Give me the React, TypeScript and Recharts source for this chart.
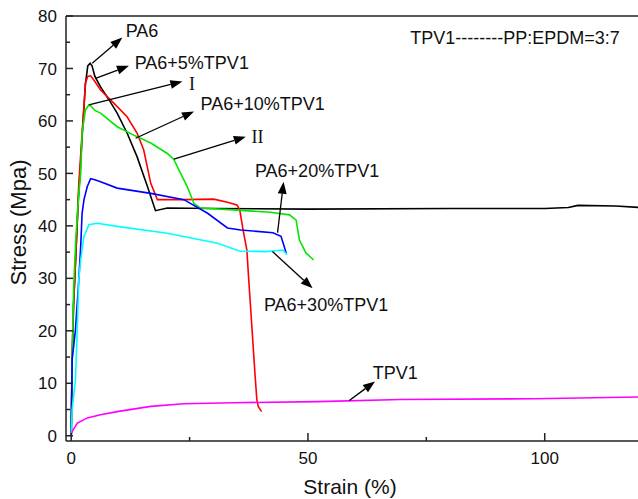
import React from "react";
import {
  LineChart,
  Line,
  XAxis,
  YAxis,
  ReferenceLine,
  ReferenceDot,
} from "recharts";

// strain (%) / stress (MPa)
const pa6Strain = [0, 0.2, 0.5, 1, 1.5, 2, 2.5, 3, 3.5, 4, 4.4, 5, 6.2, 8, 9.7, 11.8, 13.9, 16.1, 17.8, 20.3, 30, 50, 80, 100, 105, 107, 115, 120];
const pa6Stress = [0, 15, 25, 35, 45, 52, 60, 67, 70.5, 71, 70.5, 68.5, 66.5, 64, 61.5, 57.7, 53.2, 47.5, 42.9, 43.4, 43.3, 43.2, 43.3, 43.3, 43.5, 43.9, 43.8, 43.5];

const tpv5Strain = [0, 0.2, 0.5, 1, 1.6, 2.3, 2.7, 3, 3.5, 4.1, 5, 6.2, 9, 11.8, 13.9, 15.3, 16.8, 18.2, 23.8, 30.1, 33, 35, 35.6, 36.3, 37.1, 37.4, 38.1, 38.8, 39.2, 39.5, 40.2];
const tpv5Stress = [0, 15, 25, 35, 48, 57.7, 62.7, 67.2, 68.5, 68.6, 67.5, 65.9, 63.4, 60.8, 57.7, 54.5, 48.1, 45, 45, 45.1, 44.5, 44, 43, 39.2, 35.4, 31, 21.5, 11.9, 6.9, 5.6, 4.6];

const tpv10Strain = [0, 0.2, 0.5, 1, 1.6, 2, 2.3, 3, 3.7, 4.1, 5, 6.2, 9.7, 13.2, 16.8, 20.3, 21.7, 23.1, 24.5, 25.9, 27.3, 35, 42, 46.1, 47.5, 48.2, 49.6, 51.2];
const tpv10Stress = [0, 15, 28, 38, 46, 50, 57.7, 62.1, 63, 62.9, 62, 61.5, 58.9, 57.3, 55.8, 53.8, 52.6, 50, 47.5, 44.3, 43.4, 43, 42.6, 42.1, 41.1, 37.3, 34.8, 33.5];

const tpv20Strain = [0, 0.2, 0.9, 1.6, 2, 2.3, 2.7, 3.4, 4.1, 5, 6.2, 9.7, 16.8, 23.8, 28.8, 33, 35.8, 42.6, 44.3, 45, 45.4];
const tpv20Stress = [0, 14.5, 20.2, 29.7, 36, 42.4, 45, 47.5, 49, 48.8, 48.4, 47.2, 46.2, 45, 42.4, 39.6, 39.2, 38.7, 38, 36, 34.8];

const tpv30Strain = [0, 0.2, 0.9, 1.27, 1.6, 2, 2.7, 3.7, 5.5, 9.7, 20.3, 30.9, 35.5, 41.2, 44.7, 45.6];
const tpv30Stress = [0, 5, 10.7, 20.2, 29.7, 33.5, 38, 40.2, 40.5, 39.9, 38.6, 36.7, 35.2, 35.1, 35.4, 34.5];

const tpvStrain = [0, 0.3, 1.3, 3.4, 6.2, 9.7, 16.8, 23.8, 34.4, 52, 69.6, 97.8, 120];
const tpvStress = [0.2, 1, 2.4, 3.4, 4, 4.6, 5.6, 6.1, 6.3, 6.5, 6.9, 7.05, 7.4];

const xTicks = [0, 25, 50, 75, 100];
const yTicks = [0, 5, 10, 15, 20, 25, 30, 35, 40, 45, 50, 55, 60, 65, 70, 75, 80];

const arrowFrom = [[4.44, 71.0], [5.14, 68.1], [3.72, 63.05], [13.6, 56.7], [21.7, 52.7], [43.58, 38.7], [42.5, 35.1], [58.73, 6.72]];
const arrowTo = [[10.8, 75.9], [12.19, 70.5], [23.48, 67.5], [25.94, 61.8], [36.87, 57.0], [44.85, 48.4], [50.98, 28.1], [64.16, 10.34]];

const noteLabels = ["PA6", "PA6+5%TPV1", "I", "PA6+10%TPV1", "II", "PA6+20%TPV1", "PA6+30%TPV1", "TPV1", "TPV1--------PP:EPDM=3:7"];
const noteAt = [[11.5, 77.2], [13.4, 71.2], [24.9, 67.2], [27.3, 63.4], [38.1, 57.0], [38.8, 50.5], [40.7, 25.1], [63.7, 12.05], [71.6, 75.9]];

const zip = (xs: number[], ys: number[]) => xs.map((x, i) => ({ x, y: ys[i] }));

const series = [
  { name: "PA6", data: zip(pa6Strain, pa6Stress), color: "#000000" },
  { name: "PA6+5%TPV1", data: zip(tpv5Strain, tpv5Stress), color: "#ff0000" },
  { name: "PA6+10%TPV1", data: zip(tpv10Strain, tpv10Stress), color: "#00e800" },
  { name: "PA6+20%TPV1", data: zip(tpv20Strain, tpv20Stress), color: "#0000ff" },
  { name: "PA6+30%TPV1", data: zip(tpv30Strain, tpv30Stress), color: "#00ffff" },
  { name: "TPV1", data: zip(tpvStrain, tpvStress), color: "#ff00ff" },
];

const FONT = "'Liberation Sans', Arial, sans-serif";
const AXIS = "#222";

const XTick = (props: any) => {
  const { x, y, payload } = props;
  const major = payload.value % 50 === 0;
  return (
    <g>
      <line x1={x} x2={x} y1={y} y2={y - (major ? 8 : 4)} stroke={AXIS} strokeWidth={1.5} />
      {major && (
        <text x={x} y={y + 23} textAnchor="middle" fontSize={17} fontFamily={FONT} fill="#111">
          {payload.value}
        </text>
      )}
    </g>
  );
};

const YTick = (props: any) => {
  const { x, y, payload } = props;
  const major = payload.value % 10 === 0;
  return (
    <g>
      <line x1={x} x2={x + (major ? 7 : 4)} y1={y} y2={y} stroke={AXIS} strokeWidth={1.5} />
      {major && (
        <text x={x - 9} y={y} dy="0.36em" textAnchor="end" fontSize={17} fontFamily={FONT} fill="#111">
          {payload.value}
        </text>
      )}
    </g>
  );
};

const Arrow = (props: any) => {
  const { x1, y1, x2, y2 } = props;
  const a = Math.atan2(y2 - y1, x2 - x1);
  const len = 12;
  const w = 4.5;
  const bx = x2 - len * Math.cos(a);
  const by = y2 - len * Math.sin(a);
  const px = -Math.sin(a) * w;
  const py = Math.cos(a) * w;
  return (
    <g>
      <line x1={x1} y1={y1} x2={bx} y2={by} stroke="#000" strokeWidth={1.3} />
      <polygon points={`${x2},${y2} ${bx + px},${by + py} ${bx - px},${by - py}`} fill="#000" />
    </g>
  );
};

const noteShape = (label: string) => (props: any) => {
  const roman = label === "I" || label === "II";
  return (
    <text
      x={props.cx}
      y={props.cy}
      dy="0.36em"
      fontSize={18}
      fontFamily={roman ? "'Liberation Serif', 'Times New Roman', serif" : FONT}
      fill="#111"
    >
      {label}
    </text>
  );
};

const XTitle = (props: any) => {
  const vb = props.viewBox;
  return (
    <text x={vb.x + vb.width / 2 - 2} y={vb.y + vb.height - 5} textAnchor="middle" fontSize={21} fontFamily={FONT} fill="#111">
      Strain (%)
    </text>
  );
};

const YTitle = (props: any) => {
  const vb = props.viewBox;
  const cx = vb.x + 18;
  const cy = vb.y + vb.height / 2 - 6;
  return (
    <text
      transform={`translate(${cx},${cy}) rotate(-90)`}
      textAnchor="middle"
      dy="0.36em"
      fontSize={22}
      fontFamily={FONT}
      fill="#111"
    >
      Stress (Mpa)
    </text>
  );
};

export default function App() {
  return (
    <div style={{ position: "absolute", left: 0, top: 0, background: "#fff" }}>
      <LineChart width={638} height={499} margin={{ top: 16, right: 0, bottom: 0, left: 0 }}>
        <XAxis
          type="number"
          dataKey="x"
          domain={[-1.1, 119.7]}
          ticks={xTicks}
          interval={0}
          allowDataOverflow
          height={58}
          tickSize={0}
          tickMargin={0}
          tick={<XTick />}
          axisLine={{ stroke: AXIS, strokeWidth: 1.5 }}
          label={XTitle}
        />
        <YAxis
          type="number"
          dataKey="y"
          domain={[-1, 80]}
          ticks={yTicks}
          interval={0}
          allowDataOverflow
          width={66}
          tickSize={0}
          tickMargin={0}
          tick={<YTick />}
          axisLine={{ stroke: AXIS, strokeWidth: 1.5 }}
          label={YTitle}
        />
        <ReferenceLine y={80} stroke={AXIS} strokeWidth={1.5} />
        {series.map((s) => (
          <Line
            key={s.name}
            data={s.data}
            dataKey="y"
            type="linear"
            stroke={s.color}
            strokeWidth={1.6}
            dot={false}
            isAnimationActive={false}
          />
        ))}
        {arrowFrom.map((f, i) => (
          <ReferenceLine
            key={`arrow-${i}`}
            segment={[
              { x: f[0], y: f[1] },
              { x: arrowTo[i][0], y: arrowTo[i][1] },
            ]}
            shape={Arrow}
          />
        ))}
        {noteLabels.map((label, i) => (
          <ReferenceDot key={`note-${i}`} x={noteAt[i][0]} y={noteAt[i][1]} r={0} shape={noteShape(label)} />
        ))}
      </LineChart>
    </div>
  );
}
